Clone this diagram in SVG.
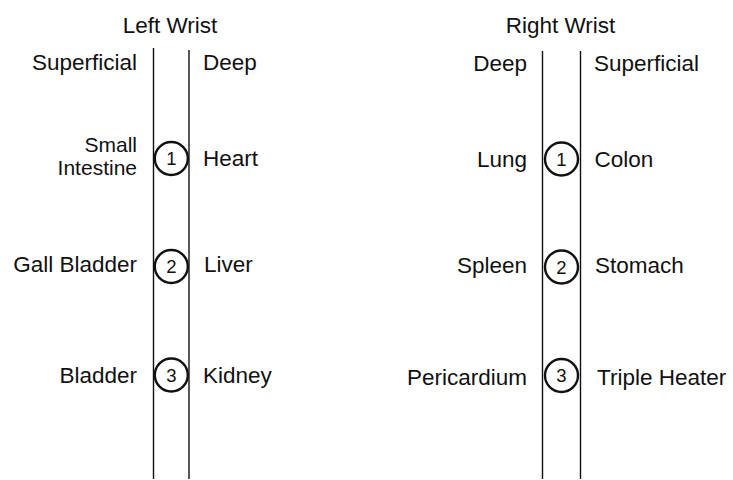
<svg xmlns="http://www.w3.org/2000/svg" width="733" height="480" viewBox="0 0 733 480">
<style>
text{font-family:"Liberation Sans",Arial,sans-serif;font-size:22.5px;fill:#111}
.r{text-anchor:end}
.m{text-anchor:middle}
.s{font-size:21px}
.n{font-size:18.5px;text-anchor:middle}
line{stroke:#111;stroke-width:1.4}
circle{fill:#fff;stroke:#111;stroke-width:2.4}
</style>
<rect width="733" height="480" fill="#fff"/>
<g id="connectors">
<line x1="153.5" y1="48" x2="153.5" y2="479"/>
<line x1="189" y1="50" x2="189" y2="479"/>
<line x1="542.5" y1="51" x2="542.5" y2="479"/>
<line x1="580.5" y1="51" x2="580.5" y2="479"/>
</g>
<g id="left-header">
<text class="m" x="170" y="33">Left Wrist</text>
<text class="r" x="137" y="70">Superficial</text>
<text x="203" y="70">Deep</text>
</g>
<g id="right-header">
<text class="m" x="560.5" y="33">Right Wrist</text>
<text class="r" x="527" y="71">Deep</text>
<text x="594" y="71">Superficial</text>
</g>
<g id="L1">
<circle cx="171.3" cy="158.5" r="16.5"/>
<text class="n" x="171.3" y="165">1</text>
<text class="r s" x="137" y="151.5">Small</text>
<text class="r s" x="137" y="174.5">Intestine</text>
<text x="203" y="166">Heart</text>
</g>
<g id="L2">
<circle cx="171.3" cy="266.5" r="16.5"/>
<text class="n" x="171.3" y="273">2</text>
<text class="r" x="137" y="272">Gall Bladder</text>
<text x="204" y="272">Liver</text>
</g>
<g id="L3">
<circle cx="171.3" cy="375" r="16.5"/>
<text class="n" x="171.3" y="381.5">3</text>
<text class="r" x="137" y="383">Bladder</text>
<text x="203" y="383">Kidney</text>
</g>
<g id="R1">
<circle cx="561.5" cy="159" r="16.5"/>
<text class="n" x="561.5" y="165.5">1</text>
<text class="r" x="527" y="167">Lung</text>
<text x="594.5" y="167">Colon</text>
</g>
<g id="R2">
<circle cx="561.5" cy="267" r="16.5"/>
<text class="n" x="561.5" y="273.5">2</text>
<text class="r" x="527" y="273">Spleen</text>
<text x="595" y="273">Stomach</text>
</g>
<g id="R3">
<circle cx="561.5" cy="375.5" r="16.5"/>
<text class="n" x="561.5" y="382">3</text>
<text class="r" x="527" y="384.5">Pericardium</text>
<text x="597" y="384.5">Triple Heater</text>
</g>
</svg>
